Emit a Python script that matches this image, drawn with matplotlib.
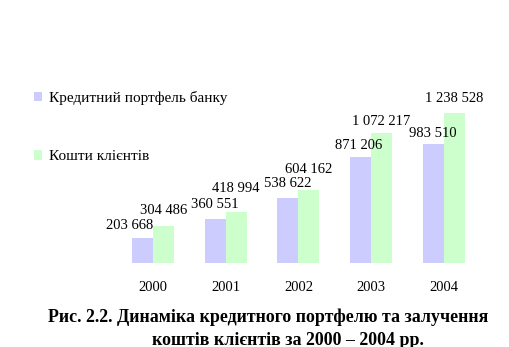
import numpy as np
import matplotlib
matplotlib.use("Agg")
from matplotlib import pyplot as plt
from matplotlib.patches import Patch

# credit portfolio vs client funds, thousand UAH
years = ["2000", "2001", "2002", "2003", "2004"]
portfolio = [203668, 360551, 538622, 871206, 983510]
client_funds = [304486, 418994, 604162, 1072217, 1238528]
series_names = ["Кредитний портфель банку", "Кошти клієнтів"]

blue = "#CCCCFF"
green = "#CCFFCC"

# hand-placed label offsets (px above bar top to text baseline)
lift_blue = [9, 11, 11, 8, 7]
lift_green = [12, 20, 17, 8, 11]
shift_blue = [-13, 0, 0, -2, 0]

plt.rcParams["font.family"] = ["Liberation Serif", "DejaVu Serif"]


def fmt(v):
    # thousands separated by spaces
    return "{:,}".format(v).replace(",", " ")


fig = plt.figure(figsize=(5.10, 3.47), dpi=100)
ax = fig.add_axes([0.2287, 0.242, 0.7127, 0.49])

x = np.arange(len(years))
w = 0.29
b1 = ax.bar(x - w / 2, portfolio, w, color=blue)
b2 = ax.bar(x + w / 2, client_funds, w, color=green)

ax.set_xlim(-0.5, len(years) - 0.5)
ax.set_ylim(0, 1400000)

px = 0.72  # points per pixel at 100 dpi
for i, r in enumerate(b1):
    ax.annotate(fmt(portfolio[i]), (r.get_x() + r.get_width() / 2, r.get_height()),
                xytext=(shift_blue[i] * px, lift_blue[i] * px), textcoords="offset points",
                ha="center", va="baseline", fontsize=10.5)
for i, r in enumerate(b2):
    ax.annotate(fmt(client_funds[i]), (r.get_x() + r.get_width() / 2, r.get_height()),
                xytext=(0, lift_green[i] * px), textcoords="offset points",
                ha="center", va="baseline", fontsize=10.5)

ax.set_xticks(x)
ax.set_xticklabels(years, fontsize=10.5)
ax.set_yticks([])
ax.tick_params(axis="x", length=0, pad=13)
for s in ax.spines.values():
    s.set_visible(False)

handles = [Patch(facecolor=blue), Patch(facecolor=green)]
fig.legend(handles, series_names, loc="upper left", bbox_to_anchor=(0.066, 0.737),
           frameon=False, fontsize=11, handlelength=0.55, handleheight=0.55,
           handletextpad=0.45, labelspacing=2.95, borderaxespad=0, borderpad=0)

fig.text(0.525, 0.085, "Рис. 2.2. Динаміка кредитного портфелю та залучення",
         ha="center", va="center", fontsize=12.9, fontweight="bold")
fig.text(0.565, 0.02, "коштів клієнтів за 2000 – 2004 рр.",
         ha="center", va="center", fontsize=12.9, fontweight="bold")

fig.savefig("out.png", dpi=100)
